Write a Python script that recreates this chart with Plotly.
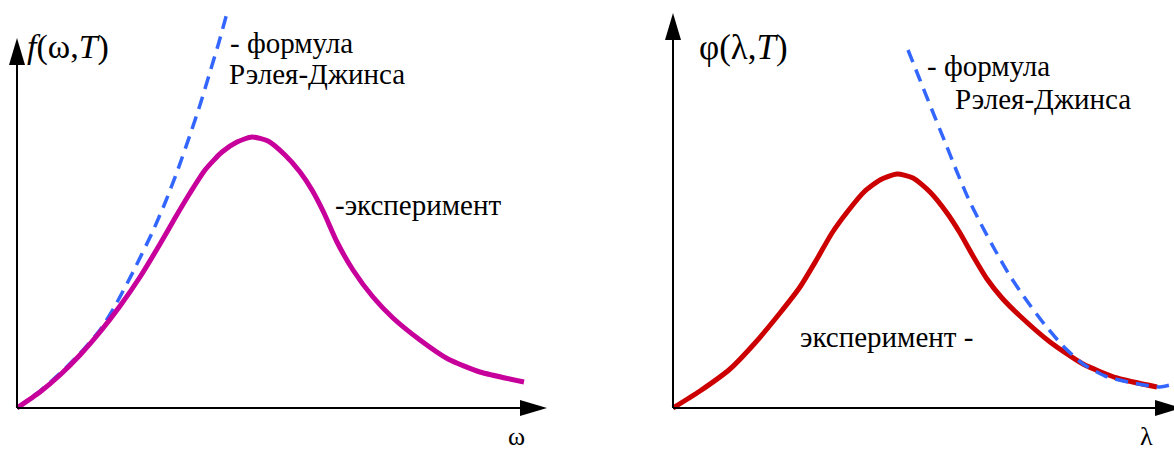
import plotly.graph_objects as go

# Experimental spectral density vs. frequency, f(omega, T)
omega_exp = [0, 0.46, 0.86, 1.26, 1.66, 2.06, 2.46, 2.86, 3.16, 3.46, 3.76, 4.1, 4.4, 4.7, 5.02,
             5.36, 5.66, 5.9, 6.14, 6.4, 6.72, 7.12, 7.52, 8.06, 8.62, 9.26, 10.14]
f_exp = [0, 0.32, 0.66, 1.06, 1.52, 2.04, 2.62, 3.28, 3.8, 4.3, 4.76, 5.12, 5.32, 5.42, 5.34,
         5.06, 4.72, 4.36, 3.9, 3.32, 2.76, 2.22, 1.8, 1.36, 0.98, 0.72, 0.52]

# Rayleigh-Jeans curve vs. frequency
omega_rj = [0, 0.46, 0.86, 1.26, 1.66, 1.96, 2.32, 2.7, 2.96, 3.2, 3.46, 3.66, 3.86, 4.04, 4.2]
f_rj = [0, 0.34, 0.69, 1.09, 1.56, 2.04, 2.72, 3.5, 4.1, 4.72, 5.46, 6.06, 6.72, 7.32, 7.9]

# Experimental spectral density vs. wavelength, phi(lambda, T)
lam_exp = [0, 0.54, 1.14, 1.64, 2.14, 2.54, 2.88, 3.18, 3.5, 3.82, 4.14, 4.48, 4.8, 5.14, 5.48,
           5.74, 6.0, 6.28, 6.58, 6.94, 7.54, 8.2, 8.88, 9.68]
phi_exp = [0, 0.34, 0.78, 1.3, 1.9, 2.42, 2.98, 3.5, 3.94, 4.32, 4.56, 4.68, 4.6, 4.32, 3.9,
           3.5, 3.04, 2.58, 2.2, 1.84, 1.32, 0.88, 0.6, 0.42]

# Rayleigh-Jeans curve vs. wavelength
lam_rj = [4.7, 4.94, 5.18, 5.44, 5.68, 5.92, 6.18, 6.44, 6.74, 7.08, 7.44, 7.8, 8.2, 8.64, 9.2, 9.74, 10.02]
phi_rj = [7.16, 6.56, 5.96, 5.32, 4.72, 4.16, 3.64, 3.16, 2.64, 2.14, 1.66, 1.24, 0.88, 0.64, 0.5, 0.42, 0.48]

MAGENTA = "#C8009B"
RED = "#CC0000"
BLUE = "#3366FF"
SERIF = "Liberation Serif, Times New Roman, serif"

fig = go.Figure()

smooth = dict(shape="spline", smoothing=0.6)
fig.add_trace(go.Scatter(x=omega_rj, y=f_rj, mode="lines", xaxis="x", yaxis="y",
                         line=dict(color=BLUE, width=3.5, dash="13px,8px", **smooth)))
fig.add_trace(go.Scatter(x=omega_exp, y=f_exp, mode="lines", xaxis="x", yaxis="y",
                         line=dict(color=MAGENTA, width=5, **smooth)))
fig.add_trace(go.Scatter(x=lam_exp, y=phi_exp, mode="lines", xaxis="x2", yaxis="y2",
                         line=dict(color=RED, width=5, **smooth)))
fig.add_trace(go.Scatter(x=lam_rj, y=phi_rj, mode="lines", xaxis="x2", yaxis="y2",
                         line=dict(color=BLUE, width=3.5, dash="13px,8px", **smooth)))

hidden = dict(visible=False, showgrid=False, zeroline=False, fixedrange=True)
fig.update_layout(
    width=1174, height=452,
    margin=dict(l=0, r=0, t=0, b=0),
    paper_bgcolor="white", plot_bgcolor="rgba(0,0,0,0)",
    showlegend=False,
    xaxis=dict(domain=[0, 0.5], range=[-0.34, 11.4], **hidden),
    yaxis=dict(domain=[0, 1], range=[-0.88, 8.16], **hidden),
    xaxis2=dict(domain=[0.5, 1], range=[-1.72, 10.02], anchor="y2", **hidden),
    yaxis2=dict(domain=[0, 1], range=[-0.88, 8.16], anchor="x2", **hidden),
)


def axis_arrows(xr, yr, x_tip, y_tip):
    """Coordinate axes with filled arrowheads for one panel."""
    head_len, half_w = 0.54, 0.16
    line = dict(color="black", width=2)
    return [
        dict(type="line", xref=xr, yref=yr, x0=0, y0=0, x1=x_tip - head_len, y1=0, line=line),
        dict(type="line", xref=xr, yref=yr, x0=0, y0=0, x1=0, y1=y_tip - head_len, line=line),
        dict(type="path", xref=xr, yref=yr, fillcolor="black", line=dict(width=0),
             path=f"M {x_tip} 0 L {x_tip - head_len} {half_w} L {x_tip - head_len} {-half_w} Z"),
        dict(type="path", xref=xr, yref=yr, fillcolor="black", line=dict(width=0),
             path=f"M 0 {y_tip} L {half_w} {y_tip - head_len} L {-half_w} {y_tip - head_len} Z"),
    ]


fig.update_layout(shapes=axis_arrows("x", "y", 10.6, 7.4) + axis_arrows("x2", "y2", 10.18, 7.9))


def label(text, x, y, xr, yr, size=29, xanchor="left"):
    fig.add_annotation(text=text, x=x, y=y, xref=xr, yref=yr, showarrow=False,
                       xanchor=xanchor, yanchor="middle",
                       font=dict(family=SERIF, size=size, color="black"))


# left panel texts
label("<i>f</i>(ω,<i>T</i>)", 0.16, 7.22, "x", "y", size=34)
label("- формула", 4.22, 7.3, "x", "y")
label("Рэлея-Джинса", 4.2, 6.68, "x", "y")
label("-эксперимент", 6.32, 4.06, "x", "y")
label("ω", 9.98, -0.56, "x", "y", size=26, xanchor="center")

# right panel texts
label("φ(λ,<i>T</i>)", 0.48, 7.22, "x2", "y2", size=35)
label("- формула", 5.04, 6.84, "x2", "y2")
label("Рэлея-Джинса", 5.6, 6.18, "x2", "y2")
label("эксперимент -", 2.5, 1.42, "x2", "y2")
label("λ", 9.46, -0.56, "x2", "y2", size=26, xanchor="center")

fig.write_html("out.html")
